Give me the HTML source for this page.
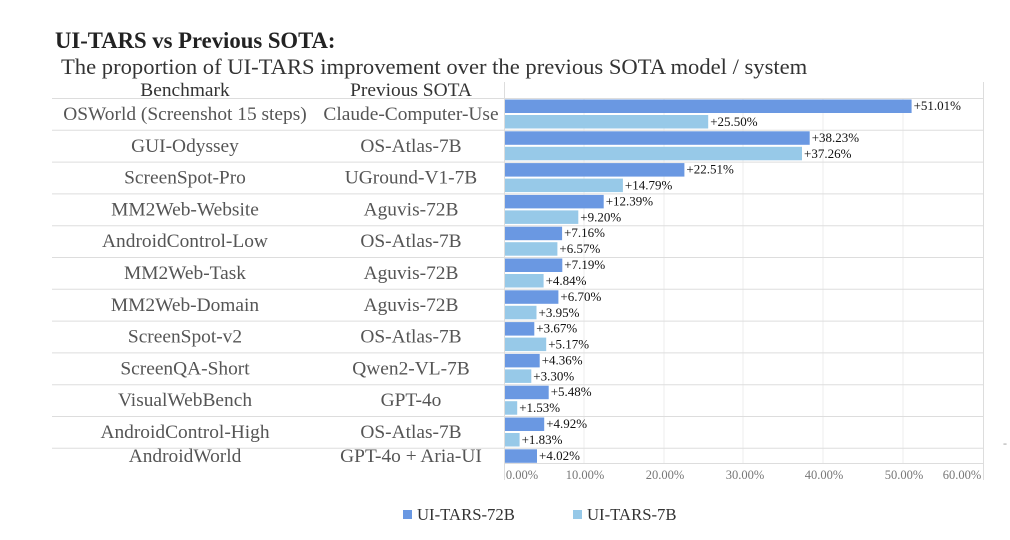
<!DOCTYPE html>
<html><head><meta charset="utf-8"><style>
body{margin:0;background:#fff;}
svg{display:block;font-family:"Liberation Serif",serif;}
.lb{font-size:19.4px;fill:#555;text-anchor:middle}
.v{font-size:13px;fill:#111}
.a{fill:#6a98e2}.b{fill:#97c9e8}
</style></head><body>
<svg width="1010" height="540" viewBox="0 0 1010 540">
<text x="55" y="48" font-size="22.7" font-weight="bold" fill="#222">UI-TARS vs Previous SOTA:</text>
<text x="61" y="74" font-size="22.6" fill="#333">The proportion of UI-TARS improvement over the previous SOTA model / system</text>
<text x="185" y="96" font-size="19.4" fill="#333" text-anchor="middle">Benchmark</text>
<text x="411" y="96" font-size="19.4" fill="#333" text-anchor="middle">Previous SOTA</text>
<g stroke="#eee" stroke-width="1">
<line x1="584" y1="98" x2="584" y2="464"/><line x1="664" y1="98" x2="664" y2="464"/>
<line x1="743" y1="98" x2="743" y2="464"/><line x1="823" y1="98" x2="823" y2="464"/>
<line x1="903" y1="98" x2="903" y2="464"/>
</g>
<line x1="504.5" y1="82" x2="504.5" y2="480" stroke="#ddd"/>
<line x1="983.5" y1="82" x2="983.5" y2="480" stroke="#ddd"/>
<line x1="504" y1="463.5" x2="984" y2="463.5" stroke="#ddd"/>

<g transform="translate(0,98)"><line x1="52" y1="0.5" x2="984" y2="0.5" stroke="#ddd"/><text class="lb" x="185" y="22">OSWorld (Screenshot 15 steps)</text><text class="lb" x="411" y="22">Claude-Computer-Use</text><rect class="a" x="505" y="1.5" width="406.6" height="13.5"/><text class="v" x="913.6" y="12">+51.01%</text><rect class="b" x="505" y="17" width="203.2" height="13.5"/><text class="v" x="710.2" y="28">+25.50%</text></g>
<g transform="translate(0,129.8)"><line x1="52" y1="0.5" x2="984" y2="0.5" stroke="#ddd"/><text class="lb" x="185" y="22">GUI-Odyssey</text><text class="lb" x="411" y="22">OS-Atlas-7B</text><rect class="a" x="505" y="1.5" width="304.7" height="13.5"/><text class="v" x="811.7" y="12">+38.23%</text><rect class="b" x="505" y="17" width="297" height="13.5"/><text class="v" x="804" y="28">+37.26%</text></g>
<g transform="translate(0,161.6)"><line x1="52" y1="0.5" x2="984" y2="0.5" stroke="#ddd"/><text class="lb" x="185" y="22">ScreenSpot-Pro</text><text class="lb" x="411" y="22">UGround-V1-7B</text><rect class="a" x="505" y="1.5" width="179.4" height="13.5"/><text class="v" x="686.4" y="12">+22.51%</text><rect class="b" x="505" y="17" width="117.9" height="13.5"/><text class="v" x="624.9" y="28">+14.79%</text></g>
<g transform="translate(0,193.4)"><line x1="52" y1="0.5" x2="984" y2="0.5" stroke="#ddd"/><text class="lb" x="185" y="22">MM2Web-Website</text><text class="lb" x="411" y="22">Aguvis-72B</text><rect class="a" x="505" y="1.5" width="98.7" height="13.5"/><text class="v" x="605.7" y="12">+12.39%</text><rect class="b" x="505" y="17" width="73.3" height="13.5"/><text class="v" x="580.3" y="28">+9.20%</text></g>
<g transform="translate(0,225.2)"><line x1="52" y1="0.5" x2="984" y2="0.5" stroke="#ddd"/><text class="lb" x="185" y="22">AndroidControl-Low</text><text class="lb" x="411" y="22">OS-Atlas-7B</text><rect class="a" x="505" y="1.5" width="57.1" height="13.5"/><text class="v" x="564.1" y="12">+7.16%</text><rect class="b" x="505" y="17" width="52.4" height="13.5"/><text class="v" x="559.4" y="28">+6.57%</text></g>
<g transform="translate(0,257)"><line x1="52" y1="0.5" x2="984" y2="0.5" stroke="#ddd"/><text class="lb" x="185" y="22">MM2Web-Task</text><text class="lb" x="411" y="22">Aguvis-72B</text><rect class="a" x="505" y="1.5" width="57.3" height="13.5"/><text class="v" x="564.3" y="12">+7.19%</text><rect class="b" x="505" y="17" width="38.6" height="13.5"/><text class="v" x="545.6" y="28">+4.84%</text></g>
<g transform="translate(0,288.8)"><line x1="52" y1="0.5" x2="984" y2="0.5" stroke="#ddd"/><text class="lb" x="185" y="22">MM2Web-Domain</text><text class="lb" x="411" y="22">Aguvis-72B</text><rect class="a" x="505" y="1.5" width="53.4" height="13.5"/><text class="v" x="560.4" y="12">+6.70%</text><rect class="b" x="505" y="17" width="31.5" height="13.5"/><text class="v" x="538.5" y="28">+3.95%</text></g>
<g transform="translate(0,320.6)"><line x1="52" y1="0.5" x2="984" y2="0.5" stroke="#ddd"/><text class="lb" x="185" y="22">ScreenSpot-v2</text><text class="lb" x="411" y="22">OS-Atlas-7B</text><rect class="a" x="505" y="1.5" width="29.3" height="13.5"/><text class="v" x="536.3" y="12">+3.67%</text><rect class="b" x="505" y="17" width="41.2" height="13.5"/><text class="v" x="548.2" y="28">+5.17%</text></g>
<g transform="translate(0,352.4)"><line x1="52" y1="0.5" x2="984" y2="0.5" stroke="#ddd"/><text class="lb" x="185" y="22">ScreenQA-Short</text><text class="lb" x="411" y="22">Qwen2-VL-7B</text><rect class="a" x="505" y="1.5" width="34.7" height="13.5"/><text class="v" x="541.7" y="12">+4.36%</text><rect class="b" x="505" y="17" width="26.3" height="13.5"/><text class="v" x="533.3" y="28">+3.30%</text></g>
<g transform="translate(0,384.2)"><line x1="52" y1="0.5" x2="984" y2="0.5" stroke="#ddd"/><text class="lb" x="185" y="22">VisualWebBench</text><text class="lb" x="411" y="22">GPT-4o</text><rect class="a" x="505" y="1.5" width="43.7" height="13.5"/><text class="v" x="550.7" y="12">+5.48%</text><rect class="b" x="505" y="17" width="12.2" height="13.5"/><text class="v" x="519.2" y="28">+1.53%</text></g>
<g transform="translate(0,416)"><line x1="52" y1="0.5" x2="984" y2="0.5" stroke="#ddd"/><text class="lb" x="185" y="22">AndroidControl-High</text><text class="lb" x="411" y="22">OS-Atlas-7B</text><rect class="a" x="505" y="1.5" width="39.2" height="13.5"/><text class="v" x="546.2" y="12">+4.92%</text><rect class="b" x="505" y="17" width="14.6" height="13.5"/><text class="v" x="521.6" y="28">+1.83%</text></g>
<g transform="translate(0,447.8)"><line x1="52" y1="0.5" x2="984" y2="0.5" stroke="#ddd"/><text class="lb" x="185" y="14">AndroidWorld</text><text class="lb" x="411" y="14">GPT-4o + Aria-UI</text><rect class="a" x="505" y="1.5" width="32" height="13.5"/><text class="v" x="539" y="12">+4.02%</text></g>

<g font-size="12.5" fill="#777" text-anchor="middle">
<text x="522" y="479">0.00%</text><text x="585" y="479">10.00%</text><text x="665" y="479">20.00%</text>
<text x="745" y="479">30.00%</text><text x="824" y="479">40.00%</text><text x="904" y="479">50.00%</text><text x="962" y="479">60.00%</text>
</g>
<rect x="403" y="510" width="9" height="9" fill="#6a98e2"/>
<text x="417" y="520" font-size="16.7" fill="#333">UI-TARS-72B</text>
<rect x="573" y="510" width="9" height="9" fill="#97c9e8"/>
<text x="587" y="520" font-size="16.7" fill="#333">UI-TARS-7B</text>
<text x="1003" y="447" font-size="12" fill="#999">-</text>
</svg>
</body></html>
